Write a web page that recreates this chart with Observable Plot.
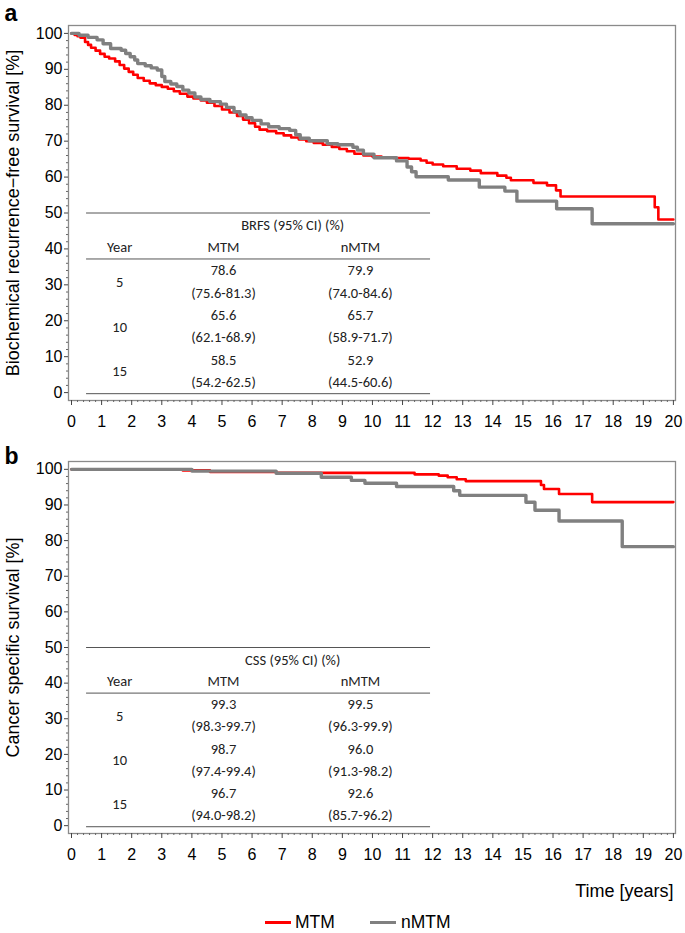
<!DOCTYPE html>
<html>
<head>
<meta charset="utf-8">
<script src="https://cdn.jsdelivr.net/npm/d3@7"></script>
<script src="https://cdn.jsdelivr.net/npm/@observablehq/plot@0.6"></script>
<style>
  body { margin: 0; background: #fff; }
  #root { position: relative; width: 685px; height: 933px; font-family: "Liberation Sans", Arial, sans-serif; }
  #root svg { display: block; }
  .legend { position: absolute; top: 912px; left: 0; width: 685px; height: 20px; font-size: 17.5px; }
  .legend .sw { position: absolute; top: 9px; width: 26px; height: 3px; }
  .legend .lb { position: absolute; top: 0; line-height: 20px; }
</style>
</head>
<body>
<div id="root"></div>
<script>
// ---------- DATA ----------
const xTickValues = [0,1,2,3,4,5,6,7,8,9,10,11,12,13,14,15,16,17,18,19,20];
const yTickValues = [0,10,20,30,40,50,60,70,80,90,100];
const seriesNames = ["MTM", "nMTM"];

// Panel a: biochemical recurrence-free survival (step curves)
const aMtmTime = [0,0.1,0.2,0.3,0.45,0.55,0.65,0.8,0.95,1.1,1.25,1.45,1.6,1.75,1.9,2.05,2.2,2.4,2.6,2.8,3.0,3.2,3.4,3.6,3.85,4.05,4.3,4.5,4.75,5.0,5.25,5.5,5.7,5.9,6.1,6.25,6.5,6.8,7.05,7.3,7.55,7.8,8.05,8.35,8.65,8.9,9.15,9.4,9.7,10.0,10.3,10.7,11.2,11.6,11.8,12.0,12.35,12.8,13.25,13.6,14.15,14.45,14.6,15.35,15.8,16.1,16.25,19.38,19.5,20];
const aMtmSurv = [100,99.6,99.2,98.8,97.6,96.8,96.0,95.2,94.3,93.5,93.0,92.2,91.2,90.2,89.3,88.5,87.6,86.8,86.1,85.6,85.1,84.6,83.9,83.2,82.4,81.9,81.3,80.7,79.8,78.8,78.0,77.0,76.0,75.0,74.0,73.2,72.8,72.2,71.6,71.0,70.5,70.0,69.5,69.0,68.4,67.8,67.2,66.5,66.0,65.7,65.5,65.3,65.1,64.6,64.0,63.5,63.0,62.3,61.8,61.1,60.4,59.8,59.1,58.4,57.7,56.3,54.6,51.6,48.2,48.2];
const aNmtmTime = [0,0.25,0.55,0.85,1.05,1.3,1.65,1.8,1.95,2.1,2.2,2.45,2.65,2.85,3.0,3.1,3.3,3.5,3.7,3.9,4.1,4.3,4.6,4.95,5.15,5.4,5.6,5.8,6.0,6.3,6.55,6.9,7.25,7.45,7.6,7.9,8.5,8.85,9.35,9.5,9.7,10.05,10.8,11.15,11.3,11.45,12.52,13.55,14.4,14.8,16.12,17.3,20];
const aNmtmSurv = [100,99.5,98.9,98.2,97.1,95.8,95.3,94.4,93.5,92.6,91.6,91.0,90.4,89.8,88.0,86.6,85.9,85.2,84.2,83.4,82.3,81.6,81.0,80.3,79.4,78.2,77.3,76.5,75.8,74.8,74.0,73.5,73.0,71.8,70.8,70.1,69.3,69.0,68.3,67.5,66.4,65.4,64.5,62.8,61.5,60.1,59.2,57.2,56.1,53.3,51.2,47.0,47.0];

// Panel b: cancer specific survival (step curves)
const bMtmTime = [0,3.7,4.6,6.8,11.4,12.2,12.5,12.8,13.1,15.6,15.7,16.2,17.3,20];
const bMtmSurv = [100,99.7,99.3,99.0,98.6,98.25,97.8,97.2,96.7,95.6,94.5,93.1,90.8,90.8];
const bNmtmTime = [0,4.0,6.8,8.3,9.3,9.75,10.8,12.7,12.9,15.1,15.4,16.2,18.3,20];
const bNmtmSurv = [100,99.5,98.9,97.8,96.9,96.1,95.2,94.0,92.7,90.75,88.5,85.5,78.3,78.3];

// Inset tables
const tableYears = ["5", "10", "15"];
const tableColumns = ["Year", "MTM", "nMTM"];
const brfsTitle = "BRFS (95% CI) (%)";
const brfsMtmEst = ["78.6", "65.6", "58.5"];
const brfsMtmCI = ["(75.6-81.3)", "(62.1-68.9)", "(54.2-62.5)"];
const brfsNmtmEst = ["79.9", "65.7", "52.9"];
const brfsNmtmCI = ["(74.0-84.6)", "(58.9-71.7)", "(44.5-60.6)"];
const cssTitle = "CSS (95% CI) (%)";
const cssMtmEst = ["99.3", "98.7", "96.7"];
const cssMtmCI = ["(98.3-99.7)", "(97.4-99.4)", "(94.0-98.2)"];
const cssNmtmEst = ["99.5", "96.0", "92.6"];
const cssNmtmCI = ["(96.3-99.9)", "(91.3-98.2)", "(85.7-96.2)"];

// ---------- LAYOUT / STYLE ----------
const COLORS = {MTM: "#ff0000", nMTM: "#808080"};
const FONT = "'Liberation Sans', Arial, sans-serif";
const TFONT = "Carlito, Calibri, Lato, sans-serif";
const tbl = {x1: 0.5, x2: 11.93, lines: [50, 37.2, -0.3], headX: 7.35, headY: 46.5, colY: 40.4,
             colX: [1.6, 5.05, 9.6], estY: [34, 21.5, 9.1], ciOff: 6.25, yearOff: 3.25};

function table(title, mtmE, mtmC, nE, nC) {
  const cells = [{x: tbl.headX, y: tbl.headY, t: title}];
  tableColumns.forEach((c, i) => cells.push({x: tbl.colX[i], y: tbl.colY, t: c}));
  tableYears.forEach((yr, i) => {
    const y = tbl.estY[i];
    cells.push({x: tbl.colX[0], y: y - tbl.yearOff, t: yr});
    cells.push({x: tbl.colX[1], y, t: mtmE[i]});
    cells.push({x: tbl.colX[1], y: y - tbl.ciOff, t: mtmC[i]});
    cells.push({x: tbl.colX[2], y, t: nE[i]});
    cells.push({x: tbl.colX[2], y: y - tbl.ciOff, t: nC[i]});
  });
  return [
    Plot.ruleY(tbl.lines, {x1: tbl.x1, x2: tbl.x2, stroke: "#555", strokeWidth: 1}),
    Plot.text(cells, {x: "x", y: "y", text: "t", fontFamily: TFONT, fontSize: 14.5, fill: "#222"})
  ];
}

function panel(o) {
  const mtm = o.mtmT.map((t, i) => ({t, s: o.mtmS[i], g: "MTM"}));
  const nmtm = o.nT.map((t, i) => ({t, s: o.nS[i], g: "nMTM"}));
  const minorX = d3.range(0, 20.01, 0.2).filter(v => Math.abs(v - Math.round(v)) > 1e-6);
  const minorY = d3.range(0, 100.1, 2).filter(v => v % 10 !== 0);
  return Plot.plot({
    width: 685, height: o.height,
    marginLeft: 68, marginRight: 10, marginTop: o.marginTop, marginBottom: o.marginBottom,
    x: {domain: [-0.1, 20.07]},
    y: {domain: [-2.2, 102.2]},
    style: {fontFamily: FONT, fontSize: "16px", color: "#000", background: "#fff", overflow: "visible"},
    marks: [
      Plot.frame({stroke: "#8a8a8a", strokeWidth: 1.3}),
      Plot.axisX({ticks: xTickValues, tickSize: 5, tickPadding: 10, tickFormat: d => String(d), label: null, fontSize: 16, stroke: "#444"}),
      Plot.axisX({ticks: minorX, tickSize: 2, tickFormat: () => "", label: null, stroke: "#666"}),
      Plot.axisY({ticks: yTickValues, tickSize: 4, tickPadding: 2, tickFormat: d => String(d), label: null, fontSize: 16, stroke: "#444"}),
      Plot.axisY({ticks: minorY, tickSize: 2, tickFormat: () => "", label: null, stroke: "#666"}),
      ...o.table,
      Plot.line(mtm, {x: "t", y: "s", curve: "step-after", stroke: COLORS.MTM, strokeWidth: 2.6}),
      Plot.line(nmtm, {x: "t", y: "s", curve: "step-after", stroke: COLORS.nMTM, strokeWidth: 3.4}),
      Plot.text([o.yTitle], {frameAnchor: "left", textAnchor: "middle", lineAnchor: "middle", dx: -55, rotate: -90, fontSize: 18, fontFamily: FONT, fill: "#000"}),
      Plot.text([o.tag], {frameAnchor: "top-left", textAnchor: "start", lineAnchor: "top", dx: -64, dy: o.tagDy, fontSize: 23, fontWeight: "bold", fontFamily: FONT, fill: "#000"}),
      ...(o.extra || [])
    ]
  });
}

const root = document.getElementById("root");

root.appendChild(panel({
  height: 440, marginTop: 25, marginBottom: 40, tag: "a", tagDy: -21,
  yTitle: "Biochemical recurrence\u2212free survival [%]",
  mtmT: aMtmTime, mtmS: aMtmSurv, nT: aNmtmTime, nS: aNmtmSurv,
  table: table(brfsTitle, brfsMtmEst, brfsMtmCI, brfsNmtmEst, brfsNmtmCI)
}));

root.appendChild(panel({
  height: 465, marginTop: 21, marginBottom: 72, tag: "b", tagDy: -14,
  yTitle: "Cancer specific survival [%]",
  mtmT: bMtmTime, mtmS: bMtmSurv, nT: bNmtmTime, nS: bNmtmSurv,
  table: table(cssTitle, cssMtmEst, cssMtmCI, cssNmtmEst, cssNmtmCI),
  extra: [Plot.text(["Time [years]"], {frameAnchor: "bottom-right", textAnchor: "end", lineAnchor: "middle", dx: -2, dy: 58, fontSize: 18, fontFamily: FONT, fill: "#000"})]
}));

// Legend
const legend = document.createElement("div");
legend.className = "legend";
const legendPos = [{sw: 265, lb: 295}, {sw: 370, lb: 401}];
seriesNames.forEach((name, i) => {
  const sw = document.createElement("div");
  sw.className = "sw";
  sw.style.left = legendPos[i].sw + "px";
  sw.style.background = COLORS[name];
  const lb = document.createElement("div");
  lb.className = "lb";
  lb.style.left = legendPos[i].lb + "px";
  lb.textContent = name;
  legend.appendChild(sw);
  legend.appendChild(lb);
});
root.appendChild(legend);
</script>
</body>
</html>
